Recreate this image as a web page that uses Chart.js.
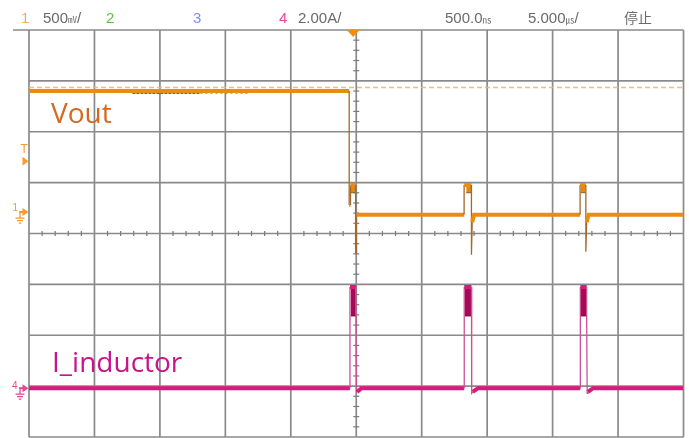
<!DOCTYPE html>
<html>
<head>
<meta charset="utf-8">
<script src="https://cdn.jsdelivr.net/npm/chart.js@4.4.1/dist/chart.umd.min.js"></script>
<style>
  html, body { margin: 0; padding: 0; background: #fff; overflow: hidden; }
  #wrap { position: relative; width: 689px; height: 438px; }
</style>
</head>
<body>
<div id="wrap"><canvas id="scope" width="689" height="438"></canvas></div>
<script>
// Time in µs relative to the trigger; 5 µs/div, screen centre sits at +0.5 µs (500 ns delay)
const timeMin = -24.5;
const timeMax = 25.5;
const timePerDiv = 5;

// Channel 1 (Vout): 500 mV/div
const voltsPerDiv = 0.5;
const voutMin = -2.211;
const voutMax = 1.789;
const triggerLevel = 0.5;
const voutReference = 1.225;

const voutTime  = [-24.5, -0.04, -0.04, 0.06, 0.06, 0.45, 0.45, 0.52, 0.52, 8.74, 8.74, 9.30, 9.30, 9.36, 9.5, 17.6, 17.6, 18.04, 18.04, 18.1, 18.25, 25.5];
const voutValue = [1.19, 1.19, 0.07, 0.07, 0.265, 0.265, -0.40, -0.40, -0.027, -0.027, 0.265, 0.265, -0.42, -0.10, -0.027, -0.027, 0.265, 0.265, -0.39, -0.10, -0.027, -0.027];

// Noise captured along the lower edge of the high level
const voutNoiseTime  = [-16.6, -11.4];
const voutNoiseValue = [1.165, 1.165];
const voutSpeckleTime  = [-11.4, -7.6];
const voutSpeckleValue = [1.165, 1.165];

// Ripple bands on Vout during each switching burst
const voutBurstStart = [0.08, 8.9, 17.65];
const voutBurstEnd   = [0.43, 9.28, 18.02];
const voutBurstLow   = [0.19, 0.19, 0.19];
const voutBurstHigh  = [0.265, 0.265, 0.265];

// Channel 4 (inductor current): 2.00 A/div
const ampsPerDiv = 2;
const currentMin = -1.92;
const currentMax = 14.08;

const currentTime  = [-24.5, 0.02, 0.02, 0.48, 0.48, 0.52, 0.56, 0.9, 8.75, 8.75, 9.3, 9.3, 9.34, 9.4, 9.8, 17.62, 17.62, 18.1, 18.1, 18.14, 18.2, 18.6, 25.5];
const currentValue = [0, 0, 3.98, 3.98, 2.84, -0.15, -0.15, 0, 0, 3.98, 3.98, 2.84, -0.2, -0.15, 0, 0, 3.98, 3.98, 2.84, -0.2, -0.15, 0, 0];

const currentBurstStart = [0.07, 8.8, 17.66];
const currentBurstEnd   = [0.47, 9.28, 18.09];
const currentBurstLow   = [2.84, 2.84, 2.84];
const currentBurstHigh  = [3.98, 3.98, 3.98];

// Status line across the top of the screen
const headerItems = [
  { text: '1', x: 21, color: '#f5a94a' },
  { text: '500', unit: '㎷', tail: '/', x: 43, color: '#6a6a6a' },
  { text: '2', x: 106, color: '#5cc43c' },
  { text: '3', x: 193, color: '#7f8ff0' },
  { text: '4', x: 279, color: '#e8489a' },
  { text: '2.00A/', x: 298, color: '#6a6a6a' },
  { text: '500.0', unit: '㎱', tail: '', x: 445, color: '#6a6a6a' },
  { text: '5.000', unit: '㎲', tail: '/', x: 528, color: '#6a6a6a' },
  { text: '停止', x: 624, color: '#6a6a6a', cjk: true }
];

const VOUT_COLOR = 'rgb(232,140,18)';
const VOUT_EDGE = 'rgb(160,105,45)';
const CURRENT_COLOR = 'rgb(224,22,126)';
const CURRENT_EDGE = 'rgb(205,80,150)';

const pts = (xs, ys) => xs.map((x, i) => ({ x, y: ys[i] }));
const isVertical = ctx => Math.abs(ctx.p1.parsed.x - ctx.p0.parsed.x) < 0.1;

function traceDataset(label, xs, ys, axis, color, edge, order) {
  return {
    label, yAxisID: axis, order,
    data: pts(xs, ys),
    borderColor: color, borderWidth: 4,
    pointRadius: 0, tension: 0, fill: false,
    segment: {
      borderWidth: ctx => isVertical(ctx) ? 1.3 : 4,
      borderColor: ctx => isVertical(ctx) ? edge : color
    }
  };
}

function bandDatasets(starts, ends, lows, highs, axis, fillColor, edgeColor, order) {
  const out = [];
  starts.forEach((s, i) => {
    out.push({
      label: 'band-top', yAxisID: axis, order,
      data: [{ x: s, y: highs[i] }, { x: ends[i], y: highs[i] }],
      borderColor: edgeColor, borderWidth: 1, pointRadius: 0, fill: false
    });
    out.push({
      label: 'band-bottom', yAxisID: axis, order,
      data: [{ x: s, y: lows[i] }, { x: ends[i], y: lows[i] }],
      borderColor: edgeColor, borderWidth: 1, pointRadius: 0,
      fill: '-1', backgroundColor: fillColor
    });
  });
  return out;
}

// Graticule: 10 x 8 divisions plus minor ticks on the centre cross
const graticule = {
  id: 'graticule',
  beforeDatasetsDraw(chart) {
    const { ctx, chartArea: a, scales } = chart;
    const xs = scales.x, ys = scales.yV;
    ctx.save();
    ctx.strokeStyle = '#8a8a8a';
    ctx.lineWidth = 1.7;
    for (let i = 0; i <= 10; i++) {
      const px = xs.getPixelForValue(timeMin + i * timePerDiv);
      ctx.beginPath(); ctx.moveTo(px, a.top); ctx.lineTo(px, a.bottom); ctx.stroke();
    }
    for (let j = 0; j <= 8; j++) {
      const py = ys.getPixelForValue(voutMin + j * voltsPerDiv);
      ctx.beginPath();
      ctx.moveTo(j === 8 ? 13 : a.left, py);
      ctx.lineTo(a.right, py); ctx.stroke();
    }
    const cx = xs.getPixelForValue((timeMin + timeMax) / 2);
    const cy = ys.getPixelForValue((voutMin + voutMax) / 2);
    ctx.strokeStyle = '#7a7a7a';
    ctx.lineWidth = 1.2;
    for (let k = 0; k <= 50; k++) {
      if (k % 5 === 0) continue;
      const px = xs.getPixelForValue(timeMin + k * timePerDiv / 5);
      ctx.beginPath(); ctx.moveTo(px, cy - 2.5); ctx.lineTo(px, cy + 2.5); ctx.stroke();
    }
    for (let k = 0; k <= 40; k++) {
      if (k % 5 === 0) continue;
      const py = ys.getPixelForValue(voutMin + k * voltsPerDiv / 5);
      ctx.beginPath(); ctx.moveTo(cx - 3, py); ctx.lineTo(cx + 3, py); ctx.stroke();
    }
    ctx.restore();
  }
};

function groundSymbol(ctx, x, y, color) {
  ctx.strokeStyle = color;
  ctx.lineWidth = 1.3;
  ctx.beginPath();
  ctx.moveTo(x, y); ctx.lineTo(x, y + 5);
  ctx.moveTo(x - 4.5, y + 5); ctx.lineTo(x + 4.5, y + 5);
  ctx.moveTo(x - 3, y + 7.5); ctx.lineTo(x + 3, y + 7.5);
  ctx.moveTo(x - 1.2, y + 10); ctx.lineTo(x + 1.2, y + 10);
  ctx.stroke();
}

function rightArrow(ctx, tipX, y, color, len, half) {
  ctx.fillStyle = color;
  ctx.beginPath();
  ctx.moveTo(tipX - len, y - half); ctx.lineTo(tipX, y); ctx.lineTo(tipX - len, y + half);
  ctx.closePath(); ctx.fill();
}

// Channel markers, trigger markers, trace names and the status line
const annotations = {
  id: 'annotations',
  afterDraw(chart) {
    const { ctx, chartArea: a, scales } = chart;
    const xs = scales.x, yV = scales.yV, yI = scales.yI;
    ctx.save();
    ctx.textBaseline = 'alphabetic';

    // trigger position
    const tx = xs.getPixelForValue(0);
    ctx.fillStyle = 'rgb(245,140,20)';
    ctx.beginPath();
    ctx.moveTo(tx - 3, a.top); ctx.lineTo(tx + 10, a.top); ctx.lineTo(tx + 3.5, a.top + 7);
    ctx.closePath(); ctx.fill();

    // trigger level
    const orange = 'rgb(247,155,45)';
    const ty = yV.getPixelForValue(triggerLevel);
    rightArrow(ctx, a.left - 0.5, ty, orange, 6, 4.5);
    ctx.fillStyle = orange;
    ctx.font = '12px "Liberation Sans", Arial, sans-serif';
    ctx.fillText('T', 20.5, ty - 8);

    // channel 1 ground
    const g1 = yV.getPixelForValue(0);
    rightArrow(ctx, a.left - 0.5, g1, orange, 6, 4);
    ctx.fillStyle = orange;
    ctx.fillRect(19, g1 - 1, 5, 2);
    ctx.font = '10px "Liberation Sans", Arial, sans-serif';
    ctx.fillText('1', 12.5, g1 - 1);
    groundSymbol(ctx, 20, g1 + 1, orange);

    // channel 4 ground
    const pink = 'rgb(235,70,150)';
    const g4 = yI.getPixelForValue(0);
    rightArrow(ctx, a.left - 0.5, g4, pink, 6, 4);
    ctx.fillStyle = pink;
    ctx.fillRect(19, g4 - 1, 5, 2);
    ctx.font = '10px "Liberation Sans", Arial, sans-serif';
    ctx.fillText('4', 12, g4 + 1);
    groundSymbol(ctx, 20, g4 + 1, pink);

    // trace names
    ctx.font = '28px "Open Sans", sans-serif';
    ctx.fillStyle = '#d4691f';
    ctx.fillText('Vout', 51, 123);
    ctx.fillStyle = '#c8148c';
    ctx.fillText('I_inductor', 52, 372);

    // status line
    headerItems.forEach(it => {
      ctx.fillStyle = it.color;
      ctx.font = it.cjk ? '14px "Noto Sans CJK SC", sans-serif' : '15px "Liberation Sans", Arial, sans-serif';
      ctx.fillText(it.text, it.x, 23);
      if (it.unit) {
        let x = it.x + ctx.measureText(it.text).width;
        ctx.font = '9px "Noto Sans CJK SC", sans-serif';
        ctx.fillText(it.unit, x, 23);
        x += ctx.measureText(it.unit).width;
        ctx.font = '15px "Liberation Sans", Arial, sans-serif';
        ctx.fillText(it.tail, x, 23);
      }
    });
    ctx.restore();
  }
};

const datasets = [
  {
    label: 'reference', yAxisID: 'yV', order: 0,
    data: [{ x: timeMin, y: voutReference }, { x: timeMax, y: voutReference }],
    borderColor: 'rgba(255,175,100,0.9)', borderWidth: 1.5, borderDash: [5, 3],
    pointRadius: 0, fill: false
  },
  {
    label: 'Vout noise', yAxisID: 'yV', order: 0,
    data: pts(voutNoiseTime, voutNoiseValue),
    borderColor: 'rgba(70,45,15,0.75)', borderWidth: 1.2, borderDash: [3, 1],
    pointRadius: 0, fill: false
  },
  {
    label: 'Vout speckle', yAxisID: 'yV', order: 0,
    data: pts(voutSpeckleTime, voutSpeckleValue),
    borderColor: 'rgba(90,60,25,0.45)', borderWidth: 1.2, borderDash: [2, 3],
    pointRadius: 0, fill: false
  },
  traceDataset('Vout', voutTime, voutValue, 'yV', VOUT_COLOR, VOUT_EDGE, 1),
  traceDataset('I_inductor', currentTime, currentValue, 'yI', CURRENT_COLOR, CURRENT_EDGE, 1),
  ...bandDatasets(voutBurstStart, voutBurstEnd, voutBurstLow, voutBurstHigh, 'yV', 'rgb(230,135,20)', 'rgb(150,95,35)', 2),
  ...bandDatasets(currentBurstStart, currentBurstEnd, currentBurstLow, currentBurstHigh, 'yI', 'rgb(165,10,85)', 'rgb(130,0,65)', 2)
];

new Chart(document.getElementById('scope'), {
  type: 'line',
  data: { datasets },
  options: {
    responsive: false,
    animation: false,
    events: [],
    layout: { padding: { left: 29, top: 30, right: 5.5, bottom: 1 } },
    plugins: { legend: { display: false }, tooltip: { enabled: false } },
    scales: {
      x: { type: 'linear', min: timeMin, max: timeMax, display: false },
      yV: { type: 'linear', min: voutMin, max: voutMax, display: false },
      yI: { type: 'linear', min: currentMin, max: currentMax, display: false }
    }
  },
  plugins: [graticule, annotations]
});
</script>
</body>
</html>
